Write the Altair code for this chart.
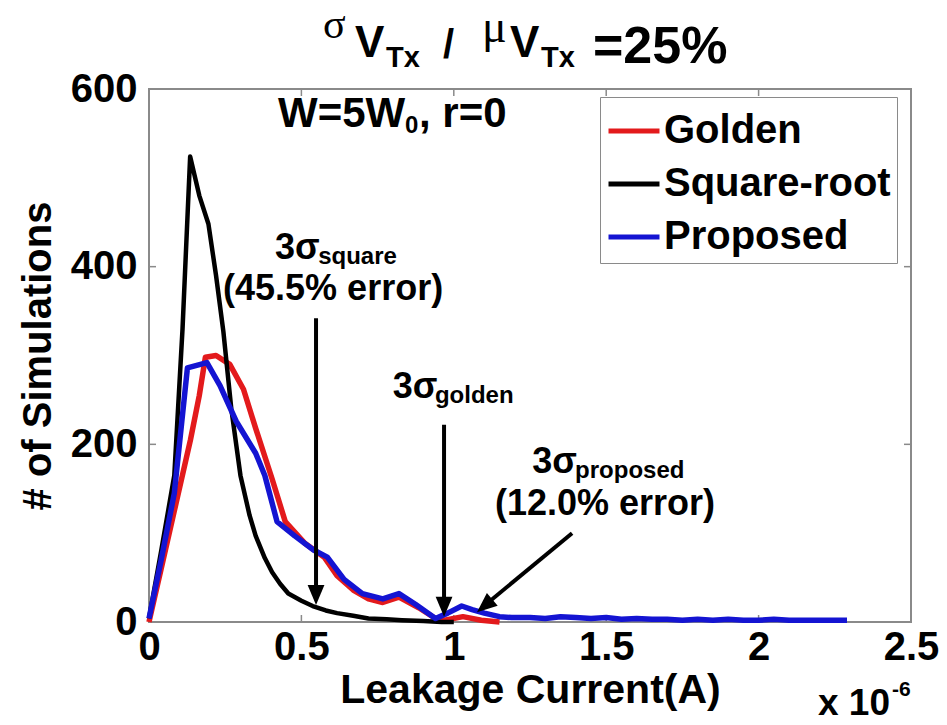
import altair as alt
import pandas as pd

# ---------------- data (x in units of 1e-6 A) ----------------
golden_x = [0.0, 0.04, 0.083, 0.136, 0.165, 0.185, 0.22, 0.265, 0.31, 0.35, 0.404, 0.447,
            0.51, 0.575, 0.617, 0.67, 0.72, 0.767, 0.82, 0.885, 0.94, 0.97, 1.03, 1.09, 1.15]
golden_y = [0, 60, 125, 205, 255, 298, 300, 290, 262, 218, 161, 113,
            89, 73, 52, 36, 26, 22, 28, 16, 4, 2, 6, 2, 0]

sqrt_x = [0.0, 0.04, 0.083, 0.11, 0.135, 0.165, 0.195, 0.22, 0.244, 0.27, 0.30, 0.33, 0.35,
          0.38, 0.404, 0.43, 0.457, 0.50, 0.537, 0.58, 0.617, 0.67, 0.72, 0.78, 0.83, 0.9, 0.96, 1.0]
sqrt_y = [4, 80, 165, 330, 524, 480, 448, 390, 327, 240, 165, 120, 97,
          72, 56, 43, 32, 24, 18, 13, 10, 7, 4, 3, 2, 1, 0, 0]

prop_x = [0.0, 0.04, 0.083, 0.126, 0.19, 0.233, 0.286, 0.35, 0.38, 0.42, 0.478, 0.54, 0.585,
          0.64, 0.70, 0.767, 0.82, 0.874, 0.94, 0.98, 1.026, 1.06, 1.1, 1.15, 1.19, 1.25, 1.3,
          1.35, 1.4, 1.45, 1.5, 1.55, 1.6, 1.65, 1.7, 1.75, 1.8, 1.85, 1.9, 1.95, 2.0, 2.05,
          2.1, 2.15, 2.2, 2.25, 2.29]
prop_y = [4, 70, 145, 286, 292, 266, 226, 190, 165, 113, 97, 81, 73,
          48, 32, 26, 32, 20, 4, 10, 18, 14, 10, 6, 5, 5, 4,
          6, 5, 4, 5, 3, 4, 3, 3, 2, 3, 2, 3, 2, 2, 3,
          2, 2, 2, 2, 2]

series_names = ["Golden", "Square-root", "Proposed"]
series_colors = ["#e31a1c", "#000000", "#1414d2"]

x_ticks = [0, 0.5, 1, 1.5, 2, 2.5]
y_ticks = [0, 200, 400, 600]

# arrows (3-sigma markers): tail, shaft end, tip
arrow_tail_x = [0.548, 0.968, 1.388]
arrow_tail_y = [342, 222, 100]
arrow_tip_x = [0.548, 0.968, 1.076]
arrow_tip_y = [19, 6, 11]
arrow_shaft_end_x = [0.548, 0.968, 1.106]
arrow_shaft_end_y = [33, 20, 20]
arrow_angle = [0, 0, 50]

# ---------------- build tables ----------------
rows = []
for name, xs, ys in [("Golden", golden_x, golden_y),
                     ("Square-root", sqrt_x, sqrt_y),
                     ("Proposed", prop_x, prop_y)]:
    for i, (a, b) in enumerate(zip(xs, ys)):
        rows.append({"series": name, "x": a, "y": b, "i": i})
df = pd.DataFrame(rows)

arrows = pd.DataFrame({
    "x0": arrow_tail_x, "y0": arrow_tail_y,
    "x1": arrow_shaft_end_x, "y1": arrow_shaft_end_y,
    "xt": arrow_tip_x, "yt": arrow_tip_y, "angle": arrow_angle,
})

W, H = 762, 533
FONT = "Liberation Sans"
SERIF = "Liberation Serif"

xscale = alt.Scale(domain=[0, 2.5], nice=False, zero=False)
yscale = alt.Scale(domain=[0, 600], nice=False)
color_scale = alt.Scale(domain=series_names, range=series_colors)

x_enc = alt.X("x:Q", scale=xscale, axis=alt.Axis(
    values=x_ticks, format="~g", title="Leakage Current(A)", grid=False, domain=False,
    ticks=False, labelFlush=False, labelFont=FONT, labelFontSize=40, labelFontWeight="bold",
    labelColor="black", labelPadding=5, titleFont=FONT, titleFontSize=41,
    titleFontWeight="bold", titleColor="black", titlePadding=3))
y_enc = alt.Y("y:Q", scale=yscale, axis=alt.Axis(
    values=y_ticks, title="# of Simulations", grid=False, domain=False, ticks=False,
    labelFont=FONT, labelFontSize=40, labelFontWeight="bold", labelColor="black",
    labelPadding=12, labelFlush=False, titleFont=FONT, titleFontSize=40,
    titleFontWeight="bold", titleColor="black", titlePadding=12))

legend = alt.Legend(
    title=None, orient="none", legendX=451, legendY=8, symbolType="stroke",
    symbolStrokeWidth=5, symbolSize=2600, labelFont=FONT, labelFontSize=40,
    labelFontWeight="bold", labelColor="black", strokeColor="#8a8a8a", fillColor="white",
    padding=6, rowPadding=5, labelOffset=2, labelLimit=400)

lines = []
for name, sw in [("Golden", 5.5), ("Square-root", 4.5), ("Proposed", 5.5)]:
    lines.append(
        alt.Chart(df).transform_filter(alt.datum.series == name)
        .mark_line(strokeWidth=sw, strokeJoin="round")
        .encode(x=x_enc, y=y_enc, order="i:Q",
                color=alt.Color("series:N", scale=color_scale, legend=legend))
    )

# inward tick marks
tick_len = 7
xt_df = pd.DataFrame({"x": x_ticks})
yt_df = pd.DataFrame({"y": y_ticks})
tick_style = dict(color="#8a8a8a", strokeWidth=1.5)
ticks_bottom = alt.Chart(xt_df).mark_rule(**tick_style).encode(
    x=alt.X("x:Q", scale=xscale), y=alt.value(H), y2=alt.value(H - tick_len))
ticks_top = alt.Chart(xt_df).mark_rule(**tick_style).encode(
    x=alt.X("x:Q", scale=xscale), y=alt.value(0), y2=alt.value(tick_len))
ticks_left = alt.Chart(yt_df).mark_rule(**tick_style).encode(
    y=alt.Y("y:Q", scale=yscale), x=alt.value(0), x2=alt.value(tick_len))
ticks_right = alt.Chart(yt_df).mark_rule(**tick_style).encode(
    y=alt.Y("y:Q", scale=yscale), x=alt.value(W), x2=alt.value(W - tick_len))

# arrows
shafts = alt.Chart(arrows).mark_rule(color="black", strokeWidth=4).encode(
    x=alt.X("x0:Q", scale=xscale), y=alt.Y("y0:Q", scale=yscale),
    x2="x1:Q", y2="y1:Q")
heads = alt.Chart(arrows).mark_point(
    shape="M0,0L-0.42,-1L0.42,-1Z", filled=True, color="black", opacity=1,
    size=1600, strokeWidth=0).encode(
    x=alt.X("xt:Q", scale=xscale), y=alt.Y("yt:Q", scale=yscale),
    angle=alt.Angle("angle:Q", scale=None))

dummy = pd.DataFrame({"k": [0]})


def ptext(text, x, y, size, font=FONT, weight="bold", align="left"):
    """Text placed in pixel coordinates relative to the plot origin."""
    return alt.Chart(dummy).mark_text(
        text=text, font=font, fontSize=size, fontWeight=weight, align=align,
        baseline="alphabetic", color="black").encode(x=alt.value(x), y=alt.value(y))


def dtext(text, x, y, size, align="left", weight="bold"):
    """Text placed in data coordinates."""
    return alt.Chart(dummy).mark_text(
        text=text, font=FONT, fontSize=size, fontWeight=weight, align=align,
        baseline="alphabetic", color="black").encode(
        x=alt.datum(x, scale=xscale), y=alt.datum(y, scale=yscale))


OX, OY = 149, 89  # plot origin in the page
texts = [
    # title  sigma_VTx / mu_VTx = 25%
    ptext("σ", 323 - OX, 38 - OY, 42, font=SERIF, weight="normal"),
    ptext("V", 355 - OX, 57 - OY, 44),
    ptext("Tx", 386 - OX, 67 - OY, 29),
    ptext("/", 443 - OX, 58 - OY, 40),
    ptext("μ", 482 - OX, 42 - OY, 46, font=SERIF, weight="normal"),
    ptext("V", 510 - OX, 57 - OY, 44),
    ptext("Tx", 541 - OX, 67 - OY, 29),
    ptext("=25%", 593 - OX, 63 - OY, 52),
    # x 10^-6
    ptext("x 10", 818 - OX, 715 - OY, 37),
    ptext("-6", 892 - OX, 696 - OY, 21),
    # W=5W0, r=0
    ptext("W=5W", 278 - OX, 127 - OY, 42),
    ptext("0", 405 - OX, 133 - OY, 24),
    ptext(", r=0", 419 - OX, 127 - OY, 42),
]
# annotations in data coordinates
texts += [
    dtext("3σ", 0.413, 409, 36),
    dtext("square", 0.555, 403, 24),
    dtext("(45.5% error)", 0.604, 363, 36, align="center"),
    dtext("3σ", 0.800, 252, 36),
    dtext("golden", 0.938, 246, 24),
    dtext("3σ", 1.257, 168, 36),
    dtext("proposed", 1.398, 162, 24),
    dtext("(12.0% error)", 1.496, 120, 36, align="center"),
]

chart = alt.layer(
    ticks_bottom, ticks_top, ticks_left, ticks_right,
    *lines, shafts, heads, *texts
).properties(
    width=W, height=H,
    autosize=alt.AutoSizeParams(type="none"),
    padding={"left": OX, "top": OY, "right": 947 - OX - W, "bottom": 725 - OY - H},
    background="white",
).configure_view(stroke="#8a8a8a", strokeWidth=2)

chart.save("out.html", embed_options={"renderer": "svg", "actions": False})
